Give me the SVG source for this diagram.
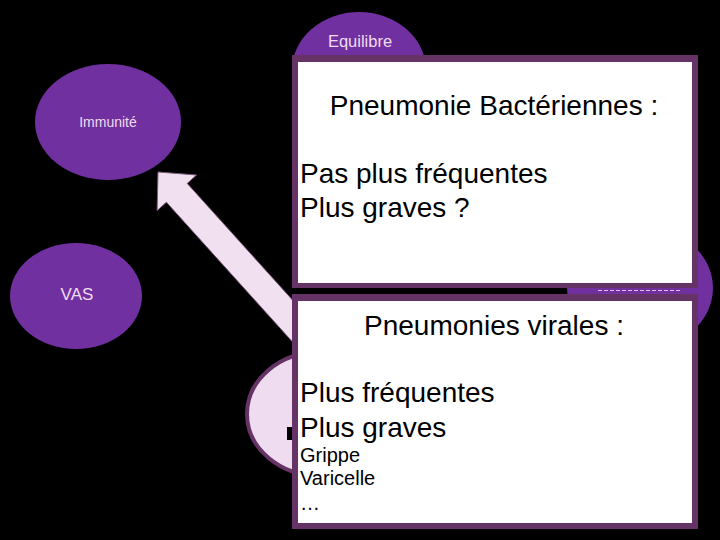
<svg xmlns="http://www.w3.org/2000/svg" width="720" height="540" viewBox="0 0 720 540">
<style>
.node{fill:#7030a0}
.lbl{font-family:"Liberation Sans",Arial,sans-serif;fill:#f0dcf0;text-anchor:middle}
.frame{fill:#663366}
.inner{fill:#ffffff}
.t{font-family:"Liberation Sans",Arial,sans-serif;fill:#000000}
</style>
<rect width="720" height="540" fill="#000000"/>
<g id="equilibre">
<ellipse class="node" cx="359" cy="70" rx="67" ry="58"/>
<text class="lbl" x="360" y="47" font-size="16.5">Equilibre</text>
</g>
<g id="immunite">
<ellipse class="node" cx="108" cy="122" rx="73" ry="58"/>
<text class="lbl" x="108" y="127" font-size="14">Immunité</text>
</g>
<g id="vas">
<ellipse class="node" cx="76" cy="296" rx="66" ry="53"/>
<text class="lbl" x="77" y="300" font-size="17">VAS</text>
</g>
<g id="droite">
<ellipse class="node" cx="640" cy="288" rx="73" ry="62"/>
<line x1="598" y1="290.5" x2="682" y2="290.5" stroke="#e0c0e0" stroke-width="1" stroke-dasharray="4 2"/>
</g>
<g id="connectors">
<polygon points="158,172 196.5,175 187.2,183.4 341.3,354.1 320.5,372.9 166.4,202.2 157.1,210.6" fill="#f0e0f0" stroke="#7a5a7a" stroke-width="1"/>
</g>
<g id="bas">
<ellipse cx="320" cy="414" rx="73" ry="62" fill="#f0dcf0" stroke="#663366" stroke-width="4"/>
<rect x="287" y="427" width="5" height="13" fill="#000000"/>
</g>
<g id="bacteriennes">
<rect class="frame" x="292" y="55" width="406" height="233"/>
<rect class="inner" x="298" y="62" width="394" height="221"/>
<text class="t" x="494" y="115" font-size="28" text-anchor="middle">Pneumonie Bactériennes :</text>
<text class="t" x="300" y="183" font-size="28">Pas plus fréquentes</text>
<text class="t" x="300" y="217" font-size="28">Plus graves ?</text>
</g>
<g id="virales">
<rect class="frame" x="292" y="294" width="406" height="235"/>
<rect class="inner" x="298" y="301" width="394" height="222"/>
<text class="t" x="494" y="335" font-size="28" text-anchor="middle">Pneumonies virales :</text>
<text class="t" x="300" y="402" font-size="28">Plus fréquentes</text>
<text class="t" x="300" y="437" font-size="28">Plus graves</text>
<text class="t" x="300" y="462" font-size="20">Grippe</text>
<text class="t" x="300" y="485" font-size="20">Varicelle</text>
<text class="t" x="300" y="510" font-size="20">…</text>
</g>
</svg>
